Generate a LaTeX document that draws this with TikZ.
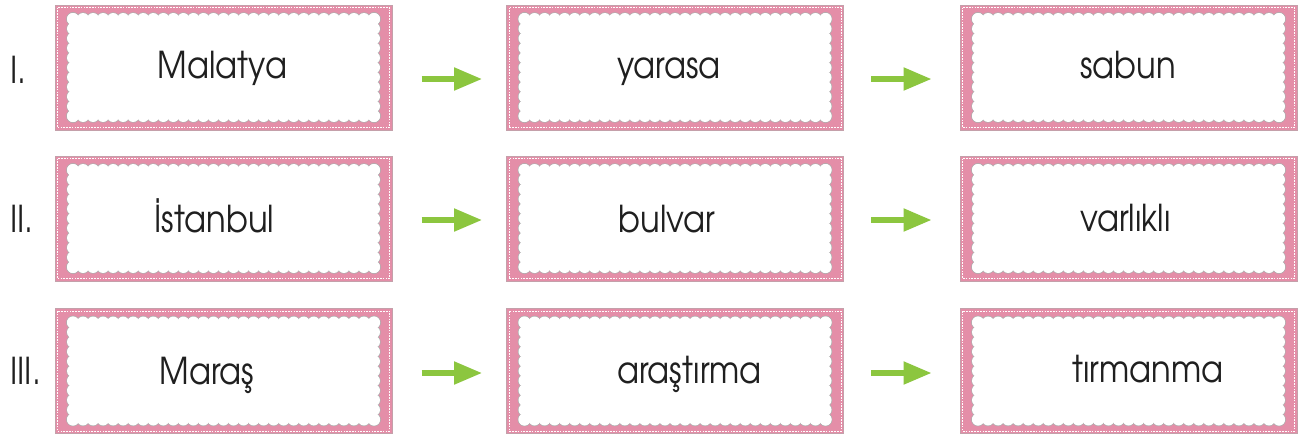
\documentclass[tikz,border=0pt]{standalone}
\usepackage{fontspec}
\setmainfont[FakeStretch=0.87]{TeX Gyre Adventor}
\usetikzlibrary{arrows.meta}
\definecolor{cardpink}{RGB}{228,142,168}
\definecolor{cardedge}{RGB}{196,160,170}
\definecolor{scallopline}{RGB}{175,175,175}
\definecolor{arrowgreen}{RGB}{140,198,63}
\tikzset{
  card/.style={draw=cardedge, line width=0.5pt, fill=cardpink, minimum width=168.5pt, minimum height=62.5pt, inner sep=0pt},
  word/.style={anchor=base, inner sep=0pt, font=\fontsize{18.5}{22}\selectfont, text=black!88},
  rowlabel/.style={anchor=base west, inner sep=0pt, font=\fontsize{18.5}{22}\selectfont, text=black!88},
  arr/.style={draw=arrowgreen, line width=2.6pt, -{Triangle[length=14pt,width=11pt]}},
  stitch/.style={draw=white, line width=0.35pt, dash pattern=on 0.8pt off 0.6pt}
}
\newcommand\cardat[3]{%
  \node[card] (#1) at (#2,#3) {};
  \draw[stitch] ({#2-166},{#3-60}) rectangle ({#2+166},{#3+60});
  \foreach \i in {0,...,30}{%
    \draw[scallopline, line width=0.7pt] ({#2-150.5+\i*10.0333},{#3-48.5}) circle[radius=3pt];
    \draw[scallopline, line width=0.7pt] ({#2-150.5+\i*10.0333},{#3+48.5}) circle[radius=3pt];
  }
  \foreach \j in {0,...,10}{%
    \draw[scallopline, line width=0.7pt] ({#2-150.5},{#3-48.5+\j*9.7}) circle[radius=3pt];
    \draw[scallopline, line width=0.7pt] ({#2+150.5},{#3-48.5+\j*9.7}) circle[radius=3pt];
  }
  \foreach \i in {0,...,30}{%
    \fill[white] ({#2-150.5+\i*10.0333},{#3-48.5}) circle[radius=3pt];
    \fill[white] ({#2-150.5+\i*10.0333},{#3+48.5}) circle[radius=3pt];
  }
  \foreach \j in {0,...,10}{%
    \fill[white] ({#2-150.5},{#3-48.5+\j*9.7}) circle[radius=3pt];
    \fill[white] ({#2+150.5},{#3-48.5+\j*9.7}) circle[radius=3pt];
  }
  \fill[white] ({#2-150.5},{#3-48.5}) rectangle ({#2+150.5},{#3+48.5});
}
\begin{document}
\begin{tikzpicture}[x=0.5pt,y=-0.5pt]
\useasboundingbox[fill=white] (0,0) rectangle (1300,435);
% cards
\cardat{c11}{223.5}{67.5}
\cardat{c12}{675}{67.5}
\cardat{c13}{1128.5}{67.5}
\cardat{c21}{223.5}{218.5}
\cardat{c22}{675}{218.5}
\cardat{c23}{1128.5}{218.5}
\cardat{c31}{223.5}{371}
\cardat{c32}{675}{371}
\cardat{c33}{1128.5}{371}
% row labels
\node[rowlabel] (l1) at (10,83) {I.};
\node[rowlabel] (l2) at (10,232) {II.};
\node[rowlabel] (l3) at (10,384) {III.};
% words
\node[word] (w11) at (222.5,78) {Malatya};
\node[word] (w12) at (669,78) {yarasa};
\node[word] (w13) at (1128,78) {sabun};
\node[word] (w21) at (214.5,232) {İstanbul};
\node[word] (w22) at (667,232) {bulvar};
\node[word] (w23) at (1125.5,231) {varlıklı};
\node[word] (w31) at (207,384) {Maraş};
\node[word] (w32) at (689.5,383) {araştırma};
\node[word] (w33) at (1148,382) {tırmanma};
% arrows
\draw[arr] ([xshift=14.5pt,yshift=-5.75pt]c11.east) -- ([xshift=-12pt,yshift=-5.75pt]c12.west);
\draw[arr] ([xshift=13.5pt,yshift=-5.75pt]c12.east) -- ([xshift=-14pt,yshift=-5.75pt]c13.west);
\draw[arr] ([xshift=14.5pt,yshift=-0.75pt]c21.east) -- ([xshift=-12pt,yshift=-0.75pt]c22.west);
\draw[arr] ([xshift=13.5pt,yshift=-0.75pt]c22.east) -- ([xshift=-14pt,yshift=-0.75pt]c23.west);
\draw[arr] ([xshift=14.5pt,yshift=-1pt]c31.east) -- ([xshift=-12pt,yshift=-1pt]c32.west);
\draw[arr] ([xshift=13.5pt,yshift=-1pt]c32.east) -- ([xshift=-14pt,yshift=-1pt]c33.west);
\end{tikzpicture}
\end{document}
